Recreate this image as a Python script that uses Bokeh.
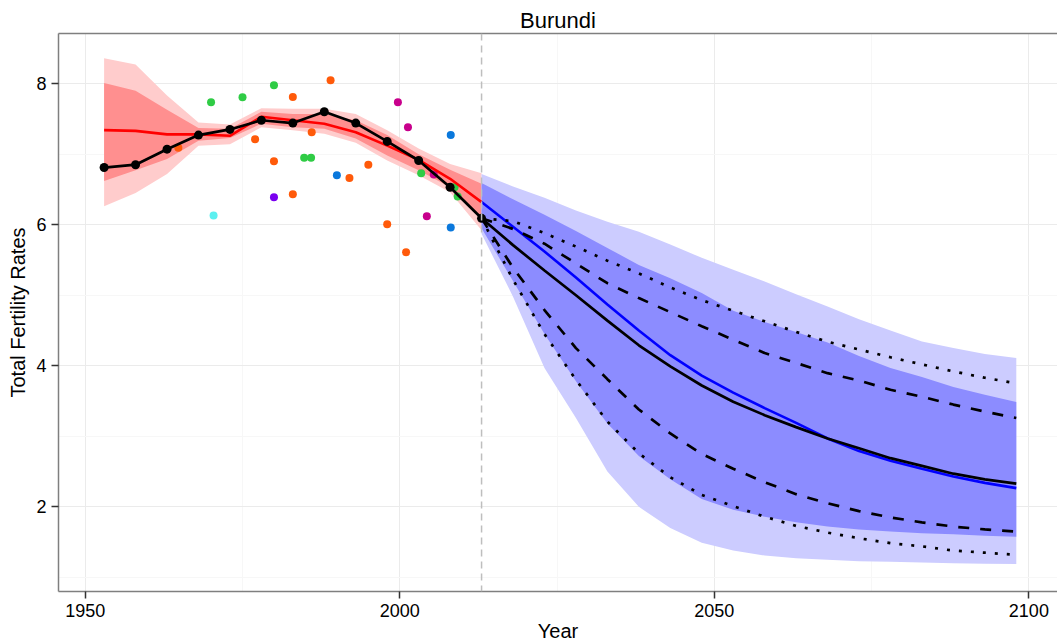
from bokeh.plotting import figure
from bokeh.models import FixedTicker, LinearAxis, Span, Range1d
from bokeh.embed import file_html
from bokeh.resources import INLINE

# ---- estimation period (5-year periods, mid-points) ----
est_years = [1953, 1958, 1963, 1968, 1973, 1978, 1983, 1988, 1993, 1998, 2003, 2008, 2013]
tfr_observed = [6.81, 6.85, 7.07, 7.27, 7.35, 7.48, 7.44, 7.60, 7.44, 7.18, 6.91, 6.53, 6.09]
est_median = [7.34, 7.33, 7.28, 7.28, 7.26, 7.53, 7.48, 7.43, 7.31, 7.12, 6.92, 6.65, 6.32]
est_80_upper = [8.01, 7.90, 7.63, 7.37, 7.36, 7.60, 7.57, 7.57, 7.48, 7.27, 7.00, 6.78, 6.58]
est_80_lower = [6.62, 6.77, 6.93, 7.19, 7.23, 7.43, 7.38, 7.36, 7.22, 6.98, 6.77, 6.53, 6.11]
est_95_upper = [8.36, 8.27, 7.83, 7.45, 7.42, 7.65, 7.645, 7.645, 7.57, 7.34, 7.08, 6.86, 6.73]
est_95_lower = [6.26, 6.45, 6.72, 7.12, 7.14, 7.38, 7.34, 7.29, 7.16, 6.91, 6.70, 6.46, 5.92]

# ---- projection period ----
proj_years = [2013, 2018, 2023, 2028, 2033, 2038, 2043, 2048, 2053,
              2058, 2063, 2068, 2073, 2078, 2083, 2088, 2093, 2098]
proj_median_bhm = [6.32, 5.97, 5.62, 5.25, 4.87, 4.50, 4.15, 3.86, 3.62,
                   3.40, 3.19, 2.97, 2.79, 2.655, 2.54, 2.43, 2.34, 2.265]
proj_80_upper = [6.59, 6.36, 6.14, 5.91, 5.67, 5.43, 5.24, 5.03, 4.78,
                 4.62, 4.48, 4.33, 4.14, 3.97, 3.84, 3.70, 3.59, 3.485]
proj_80_lower = [5.95, 5.20, 4.45, 3.78, 3.18, 2.72, 2.39, 2.11, 1.96,
                 1.86, 1.78, 1.72, 1.68, 1.65, 1.625, 1.61, 1.59, 1.575]
proj_95_upper = [6.72, 6.54, 6.38, 6.20, 6.04, 5.90, 5.72, 5.53, 5.36,
                 5.195, 5.015, 4.84, 4.66, 4.50, 4.345, 4.25, 4.165, 4.11]
proj_95_lower = [5.87, 4.98, 3.97, 3.26, 2.50, 2.00, 1.70, 1.49, 1.38,
                 1.31, 1.27, 1.25, 1.23, 1.22, 1.21, 1.20, 1.195, 1.19]

wpp_median = [6.09, 5.71, 5.35, 5.00, 4.64, 4.29, 3.99, 3.72, 3.49,
              3.30, 3.13, 2.97, 2.83, 2.69, 2.58, 2.47, 2.39, 2.33]
wpp_80_upper = [6.09, 5.94, 5.73, 5.45, 5.17, 4.96, 4.76, 4.56, 4.37,
                4.18, 4.04, 3.895, 3.79, 3.66, 3.56, 3.45, 3.35, 3.26]
wpp_80_lower = [6.09, 5.39, 4.79, 4.25, 3.81, 3.38, 3.04, 2.75, 2.54,
                2.35, 2.18, 2.05, 1.94, 1.85, 1.78, 1.72, 1.68, 1.65]
wpp_95_upper = [6.09, 6.05, 5.88, 5.69, 5.49, 5.31, 5.11, 4.93, 4.78,
                4.63, 4.48, 4.34, 4.23, 4.12, 4.02, 3.92, 3.83, 3.75]
wpp_95_lower = [6.09, 5.22, 4.45, 3.80, 3.21, 2.76, 2.42, 2.17, 2.01,
                1.86, 1.73, 1.635, 1.555, 1.485, 1.44, 1.38, 1.35, 1.32]

# ---- survey / census data points, by data source ----
survey_year = [1970.0, 1975.0, 1980.0, 1984.8, 1985.9, 2003.4, 2009.2, 2008.7,
               1983.0, 1989.0, 1964.8, 1977.0, 1980.0, 1983.0, 1986.0, 1992.0,
               1995.0, 1998.0, 2001.0,
               1990.0, 2008.1, 2008.1,
               1999.7, 2001.3, 2005.4, 2004.3,
               1980.0,
               1970.4]
survey_tfr = [7.735, 7.805, 7.976, 6.95, 6.95, 6.73, 6.40, 6.53,
              7.81, 8.047, 7.09, 7.21, 6.90, 6.43, 7.31, 6.66,
              6.85, 6.006, 5.61,
              6.70, 7.27, 5.96,
              7.735, 7.38, 6.71, 6.12,
              6.39,
              6.13]
survey_source = ["A"] * 8 + ["B"] * 11 + ["C"] * 3 + ["D"] * 4 + ["E"] + ["F"]
source_colors = {"A": "#2fcc45", "B": "#ff5a0a", "C": "#0a78dc",
                 "D": "#c8008c", "E": "#7a00f0", "F": "#5cf0f0"}

present_year = 2013

FONT = "Liberation Sans"
GREY50 = "#7f7f7f"

p = figure(width=1057, height=644, output_backend="svg", toolbar_location=None,
           x_range=Range1d(1945.75, 2104.55), y_range=Range1d(0.8, 8.71),
           min_border_left=58, min_border_right=0, min_border_top=33, min_border_bottom=53,
           title="Burundi", x_axis_label="Year", y_axis_label="Total Fertility Rates")
p.outline_line_color = None
p.background_fill_color = "white"
p.border_fill_color = "white"

p.title.text_font = FONT
p.title.text_font_size = "22px"
p.title.text_font_style = "normal"
p.title.text_color = "black"
p.title.align = "center"
p.title.standoff = 2

p.xaxis.ticker = FixedTicker(ticks=[1950, 2000, 2050, 2100], minor_ticks=[1975, 2025, 2075])
p.yaxis.ticker = FixedTicker(ticks=[2, 4, 6, 8], minor_ticks=[1, 3, 5, 7])
for ax in (p.xaxis[0], p.yaxis[0]):
    ax.axis_line_color = GREY50
    ax.axis_line_width = 1.5
    ax.major_tick_line_color = "#333333"
    ax.major_tick_line_width = 1.5
    ax.major_tick_out = 7
    ax.major_tick_in = 0
    ax.minor_tick_line_color = None
    ax.major_label_text_font = FONT
    ax.major_label_text_font_size = "18px"
    ax.major_label_text_color = "black"
    ax.major_label_standoff = 5
    ax.axis_label_text_font = FONT
    ax.axis_label_text_font_size = "20px"
    ax.axis_label_text_font_style = "normal"
    ax.axis_label_text_color = "black"
p.xaxis.axis_label_standoff = 0
p.yaxis.axis_label_standoff = 4

# top border of the panel
top = LinearAxis(ticker=FixedTicker(ticks=[]), axis_line_color=GREY50, axis_line_width=1.5,
                 major_tick_line_color=None, minor_tick_line_color=None,
                 major_label_text_font_size="0px", major_label_standoff=0)
p.add_layout(top, "above")

for g in (p.xgrid[0], p.ygrid[0]):
    g.grid_line_color = "#ebebeb"
    g.grid_line_width = 1
    g.minor_grid_line_color = "#f7f7f7"
    g.minor_grid_line_width = 1

# uncertainty bands
p.varea(x=est_years, y1=est_95_lower, y2=est_95_upper, fill_color="#ffcccc")
p.varea(x=est_years, y1=est_80_lower, y2=est_80_upper, fill_color="#ff8f8f")
p.varea(x=proj_years, y1=proj_95_lower, y2=proj_95_upper, fill_color="#ccccff")
p.varea(x=proj_years, y1=proj_80_lower, y2=proj_80_upper, fill_color="#8c8cff")

p.add_layout(Span(location=present_year, dimension="height", line_color="#bebebe",
                  line_width=1.5, line_dash="7 5"))

# survey data points
p.scatter(x=survey_year, y=survey_tfr, size=8, line_color=None,
          fill_color=[source_colors[s] for s in survey_source])

# medians
p.line(est_years, est_median, line_color="#ff0000", line_width=2.6)
p.line(proj_years, proj_median_bhm, line_color="#0000ff", line_width=2.6)

# projection intervals
p.line(proj_years, wpp_95_upper, line_color="black", line_width=2.7, line_dash="3 9")
p.line(proj_years, wpp_95_lower, line_color="black", line_width=2.7, line_dash="3 9")
p.line(proj_years, wpp_80_upper, line_color="black", line_width=2.7, line_dash="11 11")
p.line(proj_years, wpp_80_lower, line_color="black", line_width=2.7, line_dash="11 11")
p.line(proj_years, wpp_median, line_color="black", line_width=2.7)

# observed series
p.line(est_years, tfr_observed, line_color="black", line_width=2.7)
p.scatter(est_years, tfr_observed, size=9, fill_color="black", line_color=None)

open("out.html", "w").write(file_html(p, INLINE))
